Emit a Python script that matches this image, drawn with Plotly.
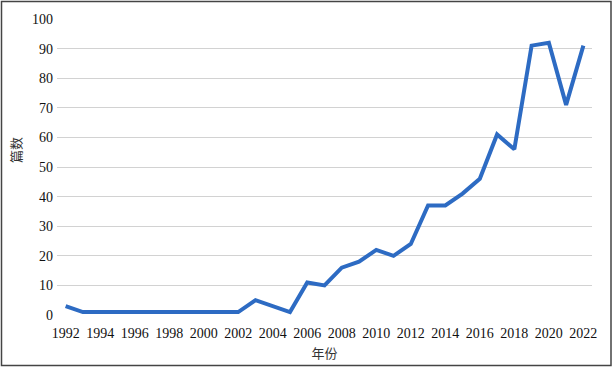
import plotly.graph_objects as go

years = list(range(1992, 2023))
counts = [3, 1, 1, 1, 1, 1, 1, 1, 1, 1, 1, 5, 3, 1, 11, 10, 16, 18, 22, 20, 24,
          37, 37, 41, 46, 61, 56, 91, 92, 71, 91]
x_ticks = list(range(1992, 2023, 2))
y_ticks = list(range(0, 101, 10))

W, H = 614, 368
L, R, T, B = 57, 22, 19, 53
pw, ph = W - L - R, H - T - B

fig = go.Figure()
fig.add_trace(go.Scatter(x=years, y=counts, mode="lines",
                         line=dict(color="#2D6BC3", width=4), showlegend=False))

font = dict(family="Liberation Serif", size=14, color="#111111")
cjk = dict(family="Noto Sans CJK SC", size=13, color="#333333")
fig.update_layout(
    width=W, height=H,
    margin=dict(l=L, r=R, t=T, b=B, autoexpand=False),
    plot_bgcolor="white", paper_bgcolor="white",
    font=font,
    xaxis=dict(range=[1991.5, 2022.5], tickvals=x_ticks, ticktext=[str(v) for v in x_ticks],
               showgrid=False, zeroline=False, showline=False, ticks="",
               ticklabelstandoff=8, automargin=False,
               title=dict(text="年份", font=cjk, standoff=8),
               tickfont=font),
    yaxis=dict(range=[0, 100], tickvals=y_ticks, showgrid=True, gridcolor="#D2D2D2", gridwidth=1.3,
               zeroline=False, showline=False, ticks="",
               ticklabelstandoff=3, automargin=False,
               tickfont=font),
    annotations=[dict(text="篇数", font=cjk, textangle=-90, showarrow=False,
                      xref="paper", yref="paper",
                      x=(15 - L) / pw, y=(H - B - 150) / ph,
                      xanchor="center", yanchor="middle")],
    shapes=[dict(type="rect", xref="paper", yref="paper",
                 x0=-(L - 1.5) / pw, x1=1 + (R - 3) / pw,
                 y0=-(B - 2.5) / ph, y1=1 + (T - 1.5) / ph,
                 line=dict(color="#444444", width=1.5), layer="above")],
)
fig.write_html("out.html", config={"displayModeBar": False},
               post_script="document.body.style.margin='0';document.body.style.padding='0';")
